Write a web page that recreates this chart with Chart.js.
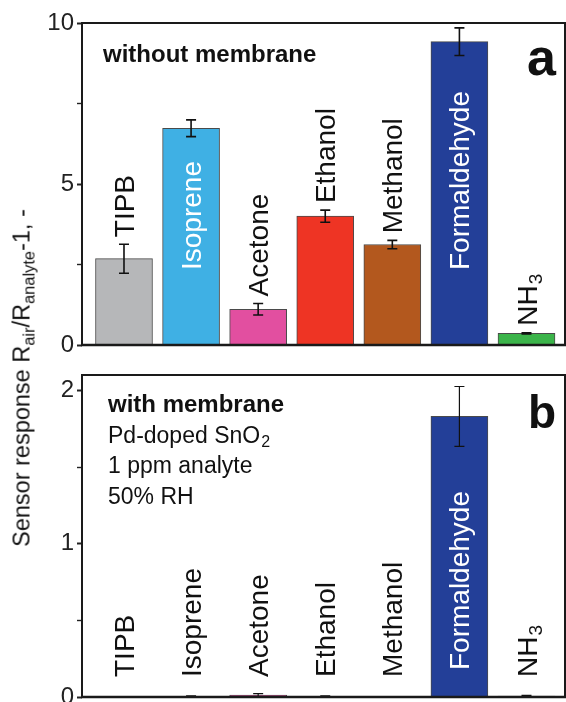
<!DOCTYPE html>
<html>
<head>
<meta charset="utf-8">
<script src="https://cdn.jsdelivr.net/npm/chart.js@4.4.1/dist/chart.umd.min.js"></script>
<style>
html, body { margin: 0; padding: 0; background: #fff; }
#wrap { position: relative; width: 566px; height: 702px; overflow: hidden; }
#topChart { position: absolute; left: 0; top: 0; }
#bottomChart { position: absolute; left: 0; top: 360px; }
#ytitle {
  position: absolute; left: 22px; top: 378px;
  transform: translate(-50%, -50%) rotate(-90deg);
  white-space: nowrap; color: #111;
  font: 23.5px "Liberation Sans", Arial, sans-serif;
}
#ytitle sub { font-size: 70%; vertical-align: -0.28em; line-height: 0; }
</style>
</head>
<body>
<div id="wrap">
  <canvas id="topChart" width="566" height="360"></canvas>
  <canvas id="bottomChart" width="566" height="342"></canvas>
  <div id="ytitle">Sensor response R<sub>air</sub>/R<sub>analyte</sub>-1, -</div>
</div>
<script>
// data
const gases = ["TIPB", "Isoprene", "Acetone", "Ethanol", "Methanol", "Formaldehyde", "NH3"];
const withoutMembrane = [2.68, 6.73, 1.11, 4.00, 3.12, 9.42, 0.36];
const withoutMembraneErr = [0.45, 0.26, 0.18, 0.19, 0.13, 0.43, 0.02];
const withMembrane = [0, 0.003, 0.012, 0.004, 0.002, 1.83, 0.006];
const withMembraneErr = [0, 0.004, 0.01, 0.004, 0, 0.195, 0.004];
const barColors = ["#b6b7b9", "#3fb0e4", "#e24fa0", "#ee3424", "#b3581e", "#233f98", "#3bb44a"];
const topTicks = [0, 5, 10];
const bottomTicks = [0, 1, 2];

const FONT = '"Liberation Sans", Arial, sans-serif';

// text with a trailing number drawn as subscript (NH3, SnO2)
function drawSubText(ctx, text, x, y, size, bold) {
  const m = text.match(/^(.*?[A-Za-z])(\d+)$/);
  const main = m ? m[1] : text;
  const w = bold ? "bold " : "";
  ctx.font = w + size + "px " + FONT;
  ctx.fillText(main, x, y);
  if (m) {
    const mw = ctx.measureText(main).width;
    ctx.font = w + Math.round(size * 0.68) + "px " + FONT;
    ctx.fillText(m[2], x + mw + 1, y + size * 0.2);
  }
}

// error bars
const errorBars = {
  id: "errorBars",
  afterDatasetsDraw(chart, args, opts) {
    const ctx = chart.ctx, xs = chart.scales.x, ys = chart.scales.y;
    ctx.save();
    ctx.strokeStyle = "#111";
    ctx.lineWidth = opts.width;
    opts.values.forEach((v, i) => {
      const e = opts.errors[i];
      if (!e) return;
      const cx = xs.getPixelForValue(i);
      const y1 = ys.getPixelForValue(v + e), y2 = ys.getPixelForValue(v - e);
      ctx.beginPath();
      ctx.moveTo(cx, y1); ctx.lineTo(cx, y2);
      ctx.moveTo(cx - 5, y1); ctx.lineTo(cx + 5, y1);
      ctx.moveTo(cx - 5, y2); ctx.lineTo(cx + 5, y2);
      ctx.stroke();
    });
    ctx.restore();
  }
};

// rotated names over / inside the bars
const barLabels = {
  id: "barLabels",
  afterDatasetsDraw(chart, args, opts) {
    const ctx = chart.ctx, xs = chart.scales.x, ys = chart.scales.y, area = chart.chartArea;
    opts.values.forEach((v, i) => {
      const inside = opts.inside.includes(i);
      const cx = xs.getPixelForValue(i);
      let y0;
      if (inside) y0 = area.bottom - opts.insideOffset;
      else y0 = Math.min(ys.getPixelForValue(v + opts.errors[i]) - 7, area.bottom - opts.minOffset);
      ctx.save();
      ctx.translate(cx, y0);
      ctx.rotate(-Math.PI / 2);
      ctx.fillStyle = inside ? "#fff" : "#111";
      ctx.textAlign = "left";
      ctx.textBaseline = "alphabetic";
      drawSubText(ctx, gases[i], 0, 28 * 0.36, 28, false);
      ctx.restore();
    });
  }
};

// box around the plot, panel text and letter
const frame = {
  id: "frame",
  afterDraw(chart, args, opts) {
    const ctx = chart.ctx, a = chart.chartArea;
    ctx.save();
    ctx.strokeStyle = "#1a1a1a";
    ctx.lineWidth = 2;
    ctx.strokeRect(a.left, a.top, a.right - a.left, a.bottom - a.top);
    ctx.lineWidth = 2.6;
    ctx.beginPath(); ctx.moveTo(a.left - 1, a.bottom); ctx.lineTo(a.right + 1, a.bottom); ctx.stroke();

    ctx.fillStyle = "#111";
    ctx.textAlign = "left";
    ctx.textBaseline = "alphabetic";
    opts.lines.forEach((ln, k) => {
      drawSubText(ctx, ln.text, a.left + opts.textX, a.top + opts.textY + k * 30.5, ln.bold ? 24 : 23, ln.bold);
    });
    ctx.textAlign = "right";
    ctx.font = "bold " + opts.letterSize + "px " + FONT;
    ctx.fillText(opts.letter, a.right - 9, a.top + opts.letterY);
    ctx.restore();
  }
};

function makeChart(id, values, errors, yMax, majorTicks, padding, extra) {
  return new Chart(document.getElementById(id), {
    type: "bar",
    data: {
      datasets: [{
        data: values.map((v, i) => ({ x: i, y: v })),
        backgroundColor: barColors,
        borderColor: "#4a4a4a",
        borderWidth: 1,
        barThickness: 57
      }]
    },
    options: {
      responsive: false,
      animation: false,
      devicePixelRatio: 1,
      layout: { padding: padding },
      plugins: {
        legend: { display: false },
        tooltip: { enabled: false },
        errorBars: { values: values, errors: errors, width: extra.errWidth },
        barLabels: Object.assign({ values: values, errors: errors }, extra.labels),
        frame: extra.frame
      },
      scales: {
        x: { type: "linear", display: false, offset: false, min: -0.626, max: 6.574 },
        y: {
          min: 0, max: yMax,
          ticks: {
            stepSize: yMax > 5 ? 2.5 : 0.5,
            includeBounds: false,
            padding: 3,
            color: "#222",
            font: { family: FONT, size: 24 },
            callback: v => majorTicks.includes(v) ? String(v) : ""
          },
          grid: {
            drawOnChartArea: false,
            drawTicks: true,
            tickLength: 5,
            tickColor: "#222",
            tickWidth: c => majorTicks.includes(c.tick.value) ? 2 : 1.4
          },
          border: { display: false },
          afterFit: s => { s.width = 82; s.paddingTop = 0; s.paddingBottom = 0; }
        }
      }
    },
    plugins: [errorBars, barLabels, frame]
  });
}

makeChart("topChart", withoutMembrane, withoutMembraneErr, 10, topTicks,
  { top: 23, bottom: 15, left: 0, right: 1 },
  {
    errWidth: 1.6,
    labels: { inside: [1, 5], insideOffset: 75, minOffset: 0 },
    frame: { lines: [{ text: "without membrane", bold: true }], textX: 21, textY: 39,
             letter: "a", letterY: 52, letterSize: 52 }
  });

makeChart("bottomChart", withMembrane, withMembraneErr, 2.1, bottomTicks,
  { top: 15, bottom: 5, left: 0, right: 1 },
  {
    errWidth: 1.2,
    labels: { inside: [5], insideOffset: 27, minOffset: 20 },
    frame: {
      lines: [
        { text: "with membrane", bold: true },
        { text: "Pd-doped SnO2", bold: false },
        { text: "1 ppm analyte", bold: false },
        { text: "50% RH", bold: false }
      ],
      textX: 26, textY: 37, letter: "b", letterY: 53, letterSize: 46
    }
  });
</script>
</body>
</html>
